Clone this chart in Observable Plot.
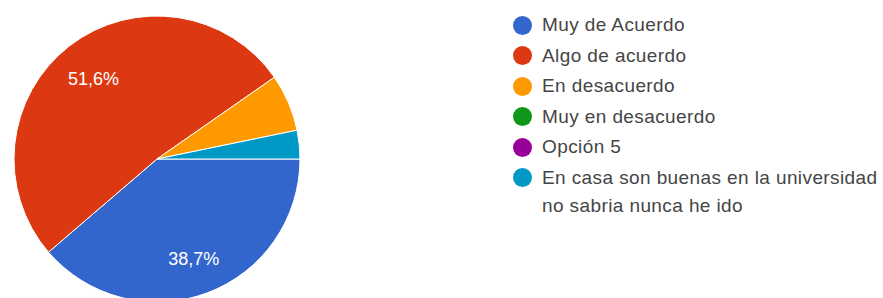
<!DOCTYPE html>
<html><head><meta charset="utf-8">
<script src="https://cdn.jsdelivr.net/npm/d3@7"></script>
<script src="https://cdn.jsdelivr.net/npm/@observablehq/plot@0.6"></script>
<style>
body{margin:0;background:#fff;font-family:"Liberation Sans",Arial,sans-serif;}
#wrap{position:relative;width:883px;height:298px;overflow:hidden;background:#fff;}
#chart{position:absolute;left:0;top:0;}
#legend{position:absolute;left:513px;top:11px;}
.row{display:flex;align-items:flex-start;font-size:19px;letter-spacing:0.4px;line-height:28px;color:#454545;margin-bottom:2.5px;}
.sw{width:19px;height:19px;border-radius:50%;flex:none;margin-top:4.5px;margin-right:10px;}
.lab{max-width:345px;}
</style></head>
<body><div id="wrap"><div id="chart"></div><div id="legend"></div></div>
<script>
const categories = ["Muy de Acuerdo","Algo de acuerdo","En desacuerdo","Muy en desacuerdo","Opción 5","En casa son buenas en la universidad no sabria nunca he ido"];
const counts = [12,16,2,0,0,1];
const colors = ["#3366cc","#dc3912","#ff9900","#109618","#990099","#0099c6"];

const data = categories.map((category, i) => ({category, count: counts[i]}));
const total = d3.sum(counts);
const arcs = d3.pie().sort(null).value(d => d.count)
  .startAngle(Math.PI / 2).endAngle(Math.PI / 2 + 2 * Math.PI)(data);

const colorScale = Plot.scale({color: {type: "ordinal", domain: categories, range: colors}});
const fmt = v => d3.format(".1f")(v * 100).replace(".", ",") + "%";

const labels = arcs.filter(a => a.value / total >= 0.1).map(a => {
  const m = (a.startAngle + a.endAngle) / 2;
  return {lx: 0.73 * Math.sin(m), ly: 0.73 * Math.cos(m), label: fmt(a.value / total)};
});

function pieMark(index, scales, values, dimensions, context) {
  const cx = scales.x(0), cy = scales.y(0), r = scales.x(1) - scales.x(0);
  const arc = d3.arc().innerRadius(0).outerRadius(r);
  const g = d3.create("svg:g").attr("transform", `translate(${cx},${cy})`);
  g.selectAll("path").data(arcs.filter(a => a.value > 0)).join("path")
    .attr("d", arc)
    .attr("fill", d => colorScale.apply(d.data.category))
    .attr("stroke", "#fff").attr("stroke-width", 1);
  return g.node();
}

const chart = Plot.plot({
  width: 500, height: 298, margin: 0,
  x: {domain: [-1, 1], range: [14, 300], axis: null},
  y: {domain: [-1, 1], range: [302, 16], axis: null},
  marks: [
    pieMark,
    Plot.text(labels, {x: "lx", y: "ly", dy: 2, text: "label", fill: "white", fontSize: 18, fontFamily: "Liberation Sans"})
  ]
});
document.getElementById("chart").appendChild(chart);

const legend = d3.select("#legend");
const rows = legend.selectAll("div.row").data(categories).join("div").attr("class", "row");
rows.append("span").attr("class", "sw").style("background", d => colorScale.apply(d));
rows.append("span").attr("class", "lab").text(d => d);
</script>
</body></html>
